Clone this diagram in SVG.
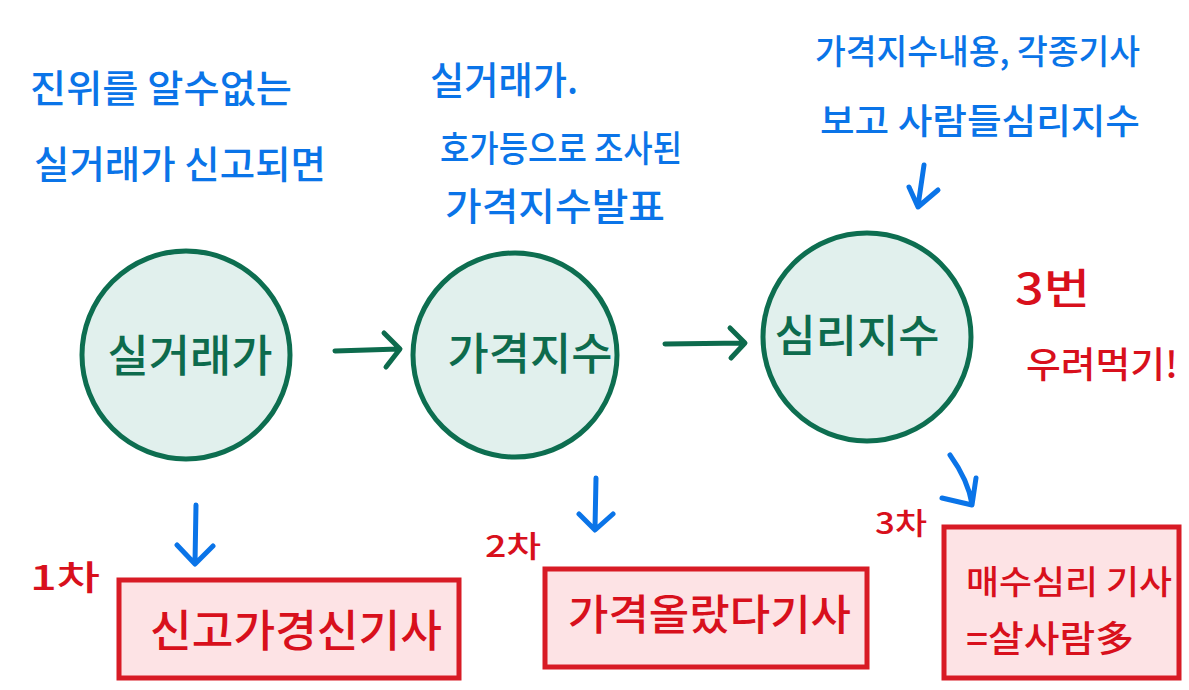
<svg xmlns="http://www.w3.org/2000/svg" width="1189" height="690" viewBox="0 0 1189 690">
<style>
text{font-family:"Noto Sans CJK KR","Noto Sans",sans-serif;font-weight:500}
.b{fill:#0a74e8}
.r{fill:#d8101c}
.g{fill:#0d6b4d}
.circ{fill:#e1f0ed;stroke:#0d6e50;stroke-width:5}
.box{fill:#fde3e5;stroke:#d81b25;stroke-width:5}
.ga{fill:none;stroke:#0d6b4d;stroke-width:5;stroke-linecap:round;stroke-linejoin:round}
.ba{fill:none;stroke:#0a74e8;stroke-width:5;stroke-linecap:round;stroke-linejoin:round}
</style>
<rect width="1189" height="690" fill="#ffffff"/>

<g id="note-left">
<text class="b" x="30" y="102" font-size="38" textLength="262" lengthAdjust="spacingAndGlyphs">진위를 알수없는</text>
<text class="b" x="34" y="178" font-size="38" textLength="292" lengthAdjust="spacingAndGlyphs">실거래가 신고되면</text>
</g>
<g id="note-middle">
<text class="b" x="430" y="94" font-size="38" textLength="148" lengthAdjust="spacingAndGlyphs">실거래가.</text>
<text class="b" x="440" y="162" font-size="36" textLength="242" lengthAdjust="spacingAndGlyphs">호가등으로 조사된</text>
<text class="b" x="445" y="220" font-size="38" textLength="220" lengthAdjust="spacingAndGlyphs">가격지수발표</text>
</g>
<g id="note-right">
<text class="b" x="815" y="64" font-size="34" textLength="325" lengthAdjust="spacingAndGlyphs">가격지수내용, 각종기사</text>
<text class="b" x="820" y="134" font-size="35" textLength="320" lengthAdjust="spacingAndGlyphs">보고 사람들심리지수</text>
</g>
<g id="note-repeat">
<text class="r" x="1015" y="304" font-size="42" textLength="75" lengthAdjust="spacingAndGlyphs">3번</text>
<text class="r" x="1026" y="378" font-size="36" textLength="152" lengthAdjust="spacingAndGlyphs">우려먹기!</text>
</g>

<g id="node-actual-price">
<circle class="circ" cx="186" cy="355" r="104"/>
<text class="g" x="190" y="372" font-size="44" text-anchor="middle" textLength="165" lengthAdjust="spacingAndGlyphs">실거래가</text>
</g>
<g id="node-price-index">
<circle class="circ" cx="515" cy="355" r="102"/>
<text class="g" x="530" y="370" font-size="44" text-anchor="middle" textLength="165" lengthAdjust="spacingAndGlyphs">가격지수</text>
</g>
<g id="node-sentiment-index">
<circle class="circ" cx="867" cy="337" r="104"/>
<text class="g" x="857" y="352" font-size="44" text-anchor="middle" textLength="165" lengthAdjust="spacingAndGlyphs">심리지수</text>
</g>

<g id="label-1">
<text class="r" x="30" y="590" font-size="34" textLength="70" lengthAdjust="spacingAndGlyphs">1차</text>
</g>
<g id="label-2">
<text class="r" x="485" y="557" font-size="30" textLength="56" lengthAdjust="spacingAndGlyphs">2차</text>
</g>
<g id="label-3">
<text class="r" x="875" y="534" font-size="30" textLength="52" lengthAdjust="spacingAndGlyphs">3차</text>
</g>

<g id="node-article-1">
<rect class="box" x="119" y="580" width="340" height="98"/>
<text class="r" x="150" y="647" font-size="44" textLength="292" lengthAdjust="spacingAndGlyphs">신고가경신기사</text>
</g>
<g id="node-article-2">
<rect class="box" x="545" y="569" width="322" height="98"/>
<text class="r" x="568" y="630" font-size="42" textLength="283" lengthAdjust="spacingAndGlyphs">가격올랐다기사</text>
</g>
<g id="node-article-3">
<rect class="box" x="944" y="527" width="235" height="151"/>
<text class="r" x="966" y="594" font-size="33" textLength="206" lengthAdjust="spacingAndGlyphs">매수심리 기사</text>
<text class="r" x="966" y="652" font-size="36" textLength="168" lengthAdjust="spacingAndGlyphs">=살사람多</text>
</g>

<g id="connectors">
<path class="ga" d="M335 351 L399 349 M384 333 L400 349 L386 367"/>
<path class="ga" d="M665 344 L744 343 M730 328 L745 343 L731 358"/>
<path class="ba" d="M196 505 L195 563 M177 545 L195 564 L213 546"/>
<path class="ba" d="M596 478 L595 528 M579 514 L595 530 L613 514"/>
<path class="ba" d="M950 455 Q968 480 972 504 M942 498 L972 505 L976 478"/>
<path class="ba" d="M924 165 L918 206 M909 187 L918 207 L938 190"/>
</g>
</svg>
